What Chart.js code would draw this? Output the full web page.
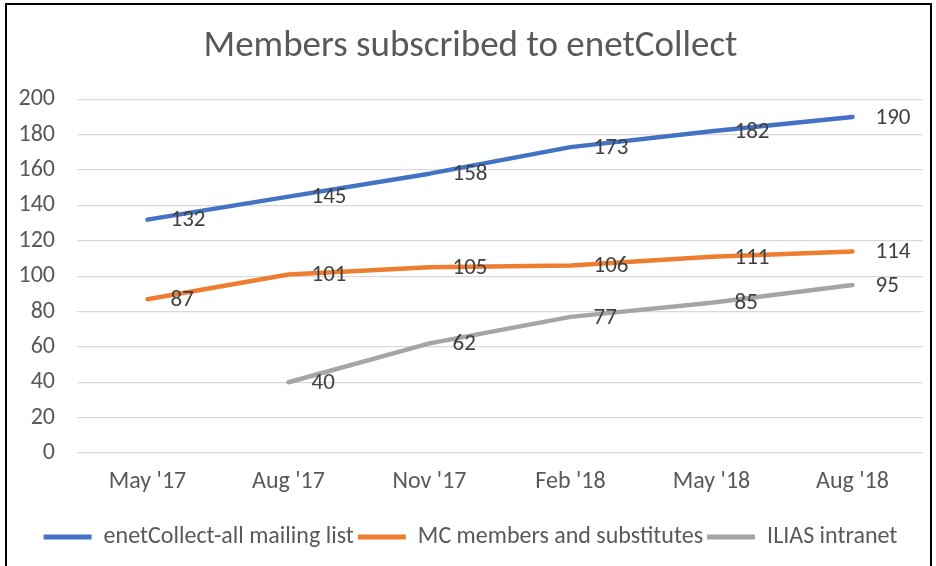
<!DOCTYPE html>
<html>
<head>
<meta charset="utf-8">
<script src="https://cdn.jsdelivr.net/npm/chart.js@4/dist/chart.umd.min.js"></script>
<style>
    html, body { margin: 0; padding: 0; background: #fff; }
    #wrap { position: relative; width: 936px; height: 566px; }
    #frame {
        position: absolute; left: 5px; top: 3px; width: 927px; height: 580px;
        border: 2px solid #000; box-sizing: border-box; pointer-events: none;
    }
    canvas { position: absolute; left: 0; top: 0; }
</style>
</head>
<body>
<div id="wrap">
    <canvas id="membersChart" width="936" height="566"></canvas>
    <div id="frame"></div>
</div>
<script>
// Chart data
const quarters = ["May '17", "Aug '17", "Nov '17", "Feb '18", "May '18", "Aug '18"];
const mailingList = [132, 145, 158, 173, 182, 190];
const mcMembers = [87, 101, 105, 106, 111, 114];
const iliasIntranet = [null, 40, 62, 77, 85, 95];
const yTicks = [0, 20, 40, 60, 80, 100, 120, 140, 160, 180, 200];

const FONT = 'Carlito, "Open Sans", sans-serif';
const TEXT_COLOR = '#595959';

// Draw value labels to the right of each point (Excel "Right" position)
const valueLabels = {
    id: 'valueLabels',
    afterDatasetsDraw(chart) {
        const ctx = chart.ctx;
        ctx.save();
        ctx.font = '23px ' + FONT;
        ctx.fillStyle = '#404040';
        ctx.textAlign = 'left';
        ctx.textBaseline = 'middle';
        chart.data.datasets.forEach((ds, i) => {
            const meta = chart.getDatasetMeta(i);
            meta.data.forEach((pt, j) => {
                const v = ds.data[j];
                if (v === null || v === undefined) return;
                ctx.fillText(String(v), pt.x + 23, pt.y + 1);
            });
        });
        ctx.restore();
    }
};

const ctx = document.getElementById('membersChart').getContext('2d');
new Chart(ctx, {
    type: 'line',
    data: {
        labels: quarters,
        datasets: [{
            label: 'enetCollect-all mailing list',
            data: mailingList,
            borderColor: '#4472C4',
            backgroundColor: '#4472C4'
        }, {
            label: 'MC members and substitutes',
            data: mcMembers,
            borderColor: '#ED7D31',
            backgroundColor: '#ED7D31'
        }, {
            label: 'ILIAS intranet',
            data: iliasIntranet,
            borderColor: '#A5A5A5',
            backgroundColor: '#A5A5A5'
        }]
    },
    options: {
        responsive: false,
        animation: false,
        devicePixelRatio: 1,
        datasets: {
            line: {
                borderWidth: 4.5,
                borderCapStyle: 'round',
                borderJoinStyle: 'round',
                pointRadius: 0,
                pointHoverRadius: 0,
                tension: 0,
                spanGaps: false
            }
        },
        layout: {
            padding: { left: 18, right: 13, top: 0, bottom: 7 }
        },
        scales: {
            x: {
                offset: true,
                grid: { display: false, drawTicks: false },
                border: { display: false },
                ticks: {
                    padding: 15,
                    color: TEXT_COLOR,
                    font: { family: FONT, size: 24 },
                    maxRotation: 0
                },
                afterFit: axis => { axis.height = 68; }
            },
            y: {
                min: 0,
                max: 200,
                afterBuildTicks: axis => {
                    axis.ticks = yTicks.map(v => ({ value: v }));
                },
                afterFit: axis => { axis.width = 59; },
                grid: { color: '#D9D9D9', lineWidth: 1.3, drawTicks: false },
                border: { display: false },
                ticks: {
                    padding: 22,
                    color: TEXT_COLOR,
                    font: { family: FONT, size: 24 }
                }
            }
        },
        plugins: {
            title: {
                display: true,
                text: 'Members subscribed to enetCollect',
                color: TEXT_COLOR,
                font: { family: FONT, size: 37, weight: 'normal' },
                padding: { top: 25, bottom: 30 }
            },
            legend: {
                position: 'bottom',
                labels: {
                    color: TEXT_COLOR,
                    font: { family: FONT, size: 24 },
                    boxWidth: 48,
                    boxHeight: 5,
                    padding: 4,
                    generateLabels: chart => Chart.defaults.plugins.legend.labels.generateLabels(chart)
                        .map(l => Object.assign(l, { lineWidth: 0 }))
                }
            },
            tooltip: { enabled: false }
        }
    },
    plugins: [valueLabels]
});
</script>
</body>
</html>
